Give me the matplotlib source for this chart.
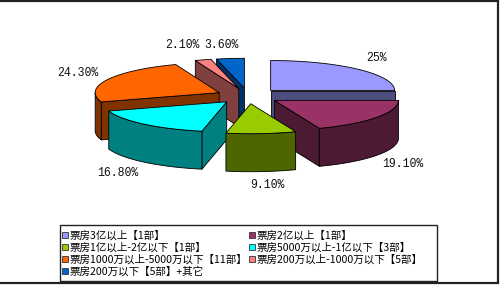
import numpy as np
import matplotlib
matplotlib.use("Agg")
import matplotlib.pyplot as plt
from matplotlib.patches import Polygon, Rectangle
from matplotlib.colors import to_rgb

# Box-office share by film revenue bracket
categories = [
    "票房3亿以上【1部】",
    "票房2亿以上【1部】",
    "票房1亿以上-2亿以下【1部】",
    "票房5000万以上-1亿以下【3部】",
    "票房1000万以上-5000万以下【11部】",
    "票房200万以上-1000万以下【5部】",
    "票房200万以下【5部】+其它",
]
shares = [25.0, 19.1, 9.1, 16.8, 24.3, 2.1, 3.6]
value_labels = ["25%", "19.10%", "9.10%", "16.80%", "24.30%", "2.10%", "3.60%"]
top_colors = ["#9999FF", "#993366", "#99CC00", "#00FFFF", "#FF6600", "#FF8080", "#0066CC"]

# Geometry of the tilted pie (in figure pixels, y pointing down)
CX, CY = 248.0, 96.0
RX, RY = 124.0, 30.0
DEPTH = 38.0
EXPLODE = 32.0
label_nudge = [(-4, -1), (0, 0), (4, -2), (-6, 0), (-2, 0), (-12, 0), (-5, 1)]


def darker(c, f=0.5):
    r, g, b = to_rgb(c)
    return (r * f, g * f, b * f)


def pt(ax_, ay_, th, drop=0.0):
    return (ax_ + RX * np.cos(th), ay_ - RY * np.sin(th) + drop)


fig = plt.figure(figsize=(5.0, 2.86), dpi=100)
ax = fig.add_axes([0, 0, 1, 1])
ax.set_xlim(0, 500)
ax.set_ylim(286, 0)
ax.axis("off")

# slice angles: start at 12 o'clock, go clockwise
total = sum(shares)
cum = np.concatenate([[0.0], np.cumsum(shares)]) / total
slices = []
for i, v in enumerate(shares):
    a1 = np.pi / 2 - 2 * np.pi * cum[i]
    a2 = np.pi / 2 - 2 * np.pi * cum[i + 1]
    mid = 0.5 * (a1 + a2)
    apx = CX + EXPLODE * np.cos(mid)
    apy = CY - EXPLODE * (RY / RX) * np.sin(mid)
    slices.append(dict(i=i, a1=a1, a2=a2, mid=mid, apx=apx, apy=apy))

edge_kw = dict(edgecolor="black", linewidth=0.6, joinstyle="round")

# paint from back to front
for s in sorted(slices, key=lambda d: -np.sin(d["mid"])):
    i, a1, a2 = s["i"], s["a1"], s["a2"]
    apx, apy = s["apx"], s["apy"]
    top = top_colors[i]
    side = darker(top)

    # radial wall at a1
    if np.cos(a1) < -1e-9:
        p = pt(apx, apy, a1)
        poly = [(apx, apy), p, (p[0], p[1] + DEPTH), (apx, apy + DEPTH)]
        ax.add_patch(Polygon(poly, closed=True, facecolor=side, **edge_kw))
    # radial wall at a2
    if np.cos(a2) > 1e-9:
        p = pt(apx, apy, a2)
        poly = [(apx, apy), p, (p[0], p[1] + DEPTH), (apx, apy + DEPTH)]
        ax.add_patch(Polygon(poly, closed=True, facecolor=side, **edge_kw))

    # outer curved wall (front part only)
    th = np.linspace(a2, a1, 200)
    vis = th[np.sin(th) < 0]
    if len(vis) > 1:
        upper = [pt(apx, apy, t) for t in vis]
        lower = [pt(apx, apy, t, DEPTH) for t in vis[::-1]]
        ax.add_patch(Polygon(upper + lower, closed=True, facecolor=side, **edge_kw))

    # top face
    arc = [pt(apx, apy, t) for t in np.linspace(a1, a2, 200)]
    ax.add_patch(Polygon([(apx, apy)] + arc, closed=True, facecolor=top, **edge_kw))

# value labels around the pie
for s in slices:
    i, mid = s["i"], s["mid"]
    lx = s["apx"] + 1.25 * RX * np.cos(mid)
    ly = s["apy"] - 1.5 * RY * np.sin(mid)
    if np.sin(mid) < 0:
        ly += DEPTH
    dx, dy = label_nudge[i]
    ax.text(lx + dx, ly + dy, value_labels[i], ha="center", va="center",
            fontsize=8.3, family=["Liberation Mono", "DejaVu Sans Mono"], color="#111111")

# legend box
LX0, LY0, LX1, LY1 = 60, 225, 437, 281
ax.add_patch(Rectangle((LX0, LY0), LX1 - LX0, LY1 - LY0, facecolor="white",
                       edgecolor="#222222", linewidth=1.0))
col_x = [62, 249]
row_y = [235, 247, 259, 271]
for i, name in enumerate(categories):
    r, c = divmod(i, 2)
    x, y = col_x[c], row_y[r]
    ax.add_patch(Rectangle((x, y - 3), 6, 6, facecolor=top_colors[i],
                           edgecolor="#333333", linewidth=0.6))
    ax.text(x + 8, y, name, ha="left", va="center", fontsize=7.6,
            family=["Noto Sans CJK SC", "DejaVu Sans"], color="black")

# chart frame
ax.plot([0, 498, 498, 0], [1, 1, 283, 283], color="#222222", linewidth=1.6,
        solid_joinstyle="miter")

fig.savefig("out.png", dpi=100)
